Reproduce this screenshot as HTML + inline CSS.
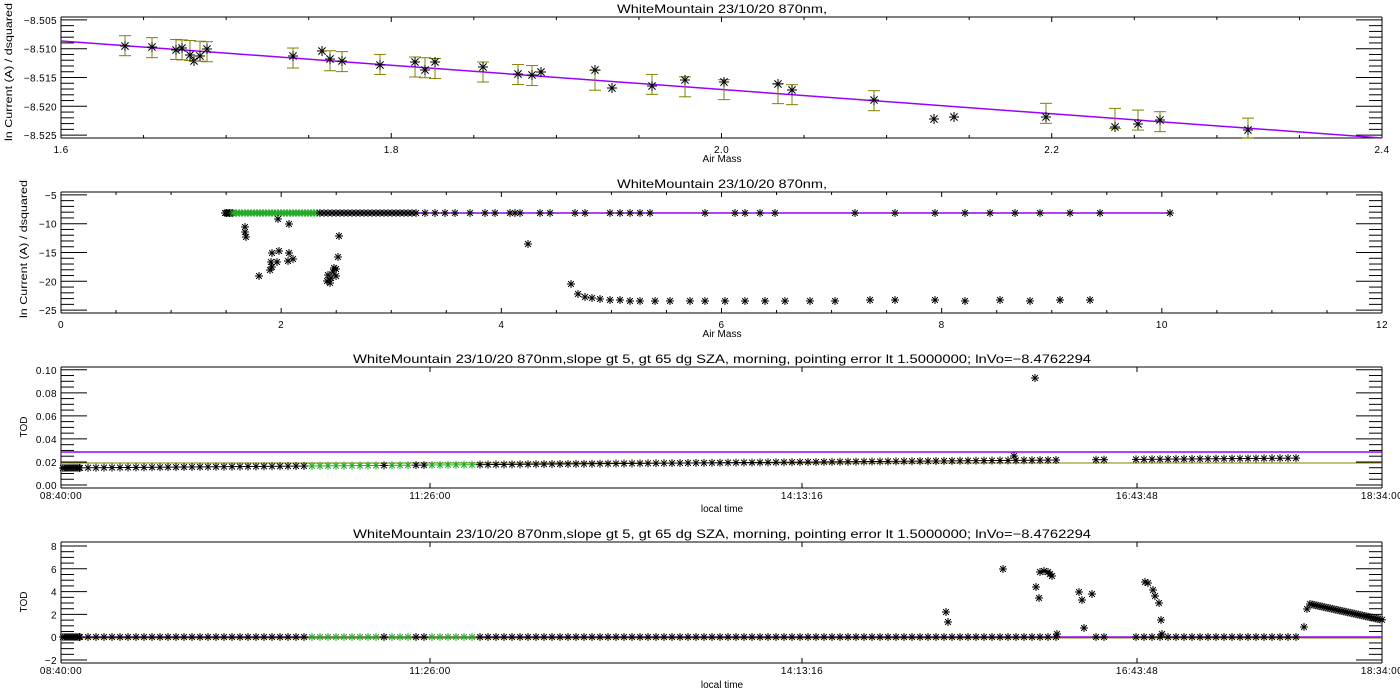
<!DOCTYPE html><html><head><meta charset="utf-8"><style>body{margin:0;background:#fff}svg{display:block}text{font-family:"Liberation Sans",sans-serif;fill:#000}</style></head><body>
<svg id="s" width="1400" height="700" xmlns="http://www.w3.org/2000/svg">
<g font-size="12" text-anchor="middle">
<text x="722" y="13" textLength="210" lengthAdjust="spacingAndGlyphs">WhiteMountain 23/10/20 870nm,</text>
<text x="722" y="188" textLength="210" lengthAdjust="spacingAndGlyphs">WhiteMountain 23/10/20 870nm,</text>
<text x="722" y="363" textLength="738" lengthAdjust="spacingAndGlyphs">WhiteMountain 23/10/20 870nm,slope gt 5, gt 65 dg SZA, morning, pointing error lt 1.5000000; lnVo=−8.4762294</text>
<text x="722" y="538" textLength="738" lengthAdjust="spacingAndGlyphs">WhiteMountain 23/10/20 870nm,slope gt 5, gt 65 dg SZA, morning, pointing error lt 1.5000000; lnVo=−8.4762294</text>
</g>
<g font-size="10" text-anchor="middle">
<text x="722" y="162">Air Mass</text><text x="722" y="337">Air Mass</text>
<text x="722" y="512">local time</text><text x="722" y="688">local time</text>
<text transform="translate(12,72) rotate(-90)" textLength="138" lengthAdjust="spacingAndGlyphs">ln Current (A) / dsquared</text>
<text transform="translate(27,249) rotate(-90)" textLength="138" lengthAdjust="spacingAndGlyphs">ln Current (A) / dsquared</text>
<text transform="translate(27,427) rotate(-90)">TOD</text>
<text transform="translate(27,602) rotate(-90)">TOD</text>
</g>
<g id="g"></g>
</svg>
<script>
var G=document.getElementById('g'),h='';
function L(a,b,c,d,col,w){h+='<line x1="'+a+'" y1="'+b+'" x2="'+c+'" y2="'+d+'" stroke="'+(col||'#000')+'" stroke-width="'+(w||1)+'"/>';}
function T(x,y,s,anc){h+='<text x="'+x+'" y="'+y+'" font-size="10" letter-spacing="0.4" text-anchor="'+(anc||'middle')+'">'+s+'</text>';}
function A(x,y,col,r){r=r||4;var d=r*0.72;L(x,y-r,x,y+r,col);L(x-r,y,x+r,y,col);L(x-d,y-d,x+d,y+d,col);L(x-d,y+d,x+d,y-d,col);}
var X0=61,X1=1382;
function frame(t,b,ymin,ymax,maj,minr,labs,fmt){
 L(X0,t,X1,t);L(X0,b,X1,b);L(X0,t,X0,b);L(X1,t,X1,b);
 var sc=(b-t)/(ymax-ymin);
 for(var v=Math.ceil(ymin/minr-1e-6)*minr;v<=ymax+1e-9;v+=minr){var y=b-(v-ymin)*sc;var isM=Math.abs(v/maj-Math.round(v/maj))<1e-6;var l=isM?26:13;L(X0,y,X0+l,y);L(X1,y,X1-l,y);if(isM)T(X0-4,y+4,fmt(v),'end');}
 return function(v){return b-(v-ymin)*sc;};
}
function xt(t,b,x,big){var l=big?5:3;L(x,b,x,b-l);L(x,t,x,t+l);}
var y1=frame(17,138,-8.5255,-8.5045,0.005,0.001,0,function(v){return v.toFixed(3).replace('-','−');});
for(var v=1.6;v<=2.4001;v+=0.05){var x=X0+(v-1.6)/0.8*1321,m=Math.abs(v*5-Math.round(v*5))<1e-6;xt(17,138,x,m);if(m)T(x,153,v.toFixed(1));}
L(X0,41,X1,138,'#9900ff',1.5);
var p1=[[125,46],[152,47],[176,50],[182,48],[190,55],[194,61],[200,56],[207,49],[293,56],[322,51],[330,59],[342,61],[380,65],[415,62],[425,70],[435,62],[483,67],[518,74],[532,75],[541,72],[595,70],[612,88],[652,86],[685,80],[724,82],[778,84],[792,90],[874,100],[934,119],[954,117],[1046,117],[1115,127],[1138,124],[1160,120],[1248,130]];
p1.forEach(function(p,i){if(i!=5&&i!=9&&i!=19&&i!=21&&i!=28&&i!=29){var ey=41+(p[0]-61)*97/1321;L(p[0],ey-10,p[0],ey+10,'#808000');L(p[0]-6,ey-10,p[0]+6,ey-10,'#808000');L(p[0]-6,ey+10,p[0]+6,ey+10,'#808000');}A(p[0],p[1],'#000',5);});
var y2=frame(192,313,-25.5,-4.5,5,1,0,function(v){return String(v).replace('-','−');});
for(var v=0;v<=12;v+=0.5){var x=X0+v/12*1321,m=v%2==0;xt(192,313,x,m);if(m)T(x,328,v);}
L(X0+1.5*110,213,1170,213,'#9900ff',1.5);
for(var x=225;x<233;x+=1.5)A(x,213);
for(var x=233;x<320;x+=3)A(x,213,'#22aa22');
for(var x=320;x<420;x+=4)A(x,213);
var xs=[425,435,445,455,470,485,495,510,515,520,540,550,575,585,610,620,630,640,650,705,735,745,760,775,855,895,935,965,990,1015,1040,1070,1100,1170];xs.forEach(function(x){A(x,213);});
[[245,227],[246,237],[245,232],[259,276],[272,267],[271,262],[270,270],[272,253],[277,262],[279,251],[288,261],[289,253],[293,259],[278,219],[289,224],[327,281],[328,275],[330,283],[331,278],[333,272],[334,268],[336,276],[338,257],[339,236],[336,269],[528,244],[571,284],[578,294],[585,297],[592,298],[600,299],[610,300],[620,300],[630,301],[640,301],[655,301],[670,301],[690,301],[705,301],[725,301],[745,301],[765,301],[785,301],[810,301],[835,301],[870,300],[895,300],[935,300],[965,301],[1000,300],[1030,301],[1060,300],[1090,300]].forEach(function(p){A(p[0],p[1]);});
function taxis(t,b,ly){[[61,'08:40:00'],[430,'11:26:00'],[802,'14:13:16'],[1137,'16:43:48'],[1382,'18:34:00']].forEach(function(q){xt(t,b,q[0],1);T(q[0],ly,q[1]);});}
var y3=frame(367,488,-0.0026,0.1024,0.02,0.005,0,function(v){return v.toFixed(2);});taxis(367,488,499);
L(X0,463,X1,463,'#808000');L(X0,452,X1,452,'#9900ff',1.5);
function row(yf,yb){var x;for(x=63;x<80;x+=2)A(x,yb(x));for(x=80;x<1300;x+=8){if(x>1060&&x<1090)continue;if(x>1110&&x<1130)continue;A(x,yb(x),(x>310&&x<474&&!(x>415&&x<425)&&!(x>380&&x<392))?'#22aa22':'#000');}}
row(0,function(x){return 468-(x-61)*0.008;});
A(1035,378);A(1014,456);
var y4=frame(542,663,-2.26,8.35,2,0.5,0,function(v){return String(v).replace('-','−');});taxis(542,663,674);
L(X0,638,X1,638,'#808000');L(X0,637,X1,637,'#9900ff',1.5);
row(0,function(){return 637;});
[[946,612],[948,622],[1003,569],[1036,587],[1039,598],[1040,572],[1044,571],[1048,572],[1050,574],[1052,576],[1057,634],[1079,592],[1082,600],[1092,594],[1084,628],[1145,582],[1148,583],[1153,590],[1155,596],[1159,603],[1161,620],[1162,634],[1304,627],[1307,609]].forEach(function(p){A(p[0],p[1]);});
for(var x=1310;x<1383;x+=2)A(x,604+(x-1310)*16/73);
G.innerHTML=h;
</script></body></html>
